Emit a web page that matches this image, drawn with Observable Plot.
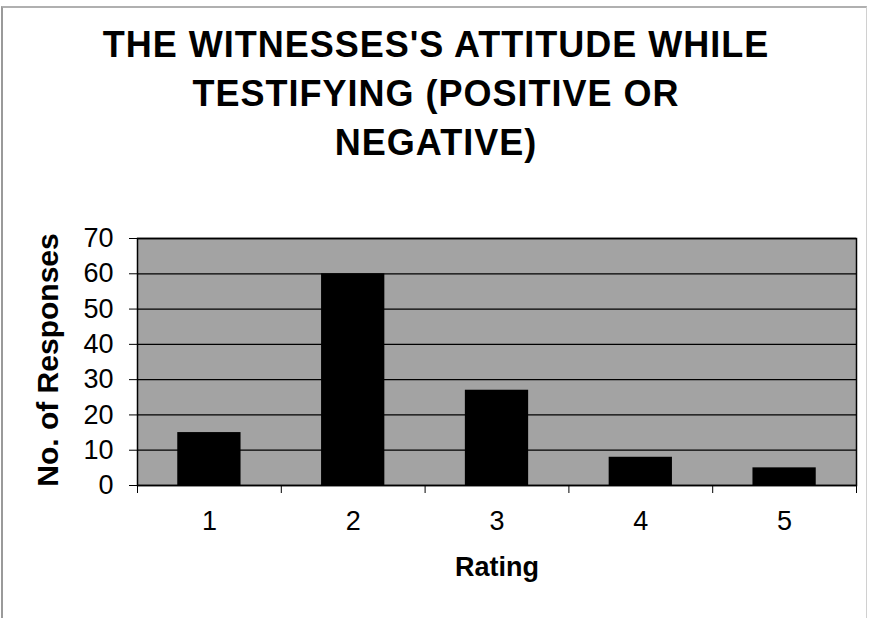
<!DOCTYPE html>
<html>
<head>
<meta charset="utf-8">
<script src="https://cdn.jsdelivr.net/npm/d3@7"></script>
<script src="https://cdn.jsdelivr.net/npm/@observablehq/plot@0.6"></script>
<style>
  html, body { margin: 0; padding: 0; background: #fff; }
  #wrap { position: relative; width: 872px; height: 618px; overflow: hidden; font-family: "Liberation Sans", Arial, sans-serif; }
  #border { position: absolute; left: 1px; top: 6px; width: 866px; height: 640px; border-left: 2px solid #9a9a9a; border-top: 2px solid #b0b0b0; border-right: 1px solid #d0d0d0; box-sizing: border-box; }
  #title { position: absolute; left: 0; top: 20px; width: 872px; text-align: center; font-weight: bold; font-size: 36px; letter-spacing: 1px; line-height: 49px; color: #000; }
  #chart { position: absolute; left: 0; top: 0; }
</style>
</head>
<body>
<div id="wrap">
  <div id="border"></div>
  <div id="chart"></div>
  <div id="title">THE WITNESSES'S ATTITUDE WHILE<br>TESTIFYING (POSITIVE OR<br>NEGATIVE)</div>
</div>
<script>
const ratings = [1, 2, 3, 4, 5];
const counts = [15, 60, 27, 8, 5];
const yTicks = [0, 10, 20, 30, 40, 50, 60, 70];
const xBoundaries = [0.5, 1.5, 2.5, 3.5, 4.5, 5.5];
const xLabel = "Rating";
const yLabel = "No. of Responses";

const data = ratings.map((r, i) => ({rating: r, count: counts[i]}));
const half = 0.22;

const chart = Plot.plot({
  width: 872,
  height: 618,
  marginTop: 238,
  marginBottom: 133,
  marginLeft: 137,
  marginRight: 16,
  style: {fontFamily: "'Liberation Sans', Arial, sans-serif", background: "transparent", color: "#000"},
  x: {type: "linear", domain: [0.5, 5.5]},
  y: {domain: [0, 70]},
  marks: [
    Plot.frame({fill: "#a3a3a3", stroke: "none"}),
    Plot.ruleY(yTicks, {stroke: "#000", strokeWidth: 1.3}),
    Plot.rectY(data, {x1: d => d.rating - half, x2: d => d.rating + half, y: "count", fill: "#000"}),
    Plot.frame({stroke: "#000", strokeWidth: 1.5}),
    Plot.axisY({ticks: yTicks, tickSize: 8, tickFormat: () => "", label: null, stroke: "#000"}),
    Plot.axisX({ticks: xBoundaries, tickSize: 8, tickFormat: () => "", label: null}),
    Plot.text(yTicks, {y: d => d, frameAnchor: "left", dx: -24, textAnchor: "end", lineAnchor: "middle", fontSize: 27, text: d => String(d)}),
    Plot.text(ratings, {x: d => d, frameAnchor: "bottom", dy: 36, textAnchor: "middle", lineAnchor: "middle", fontSize: 27, text: d => String(d)}),
    Plot.text([yLabel], {frameAnchor: "left", dx: -89, dy: -2, rotate: -90, textAnchor: "middle", lineAnchor: "middle", fontSize: 30, fontWeight: "bold", text: d => d}),
    Plot.text([xLabel], {frameAnchor: "bottom", dy: 82, textAnchor: "middle", lineAnchor: "middle", fontSize: 27, fontWeight: "bold", text: d => d})
  ]
});
document.getElementById("chart").appendChild(chart);
</script>
</body>
</html>
